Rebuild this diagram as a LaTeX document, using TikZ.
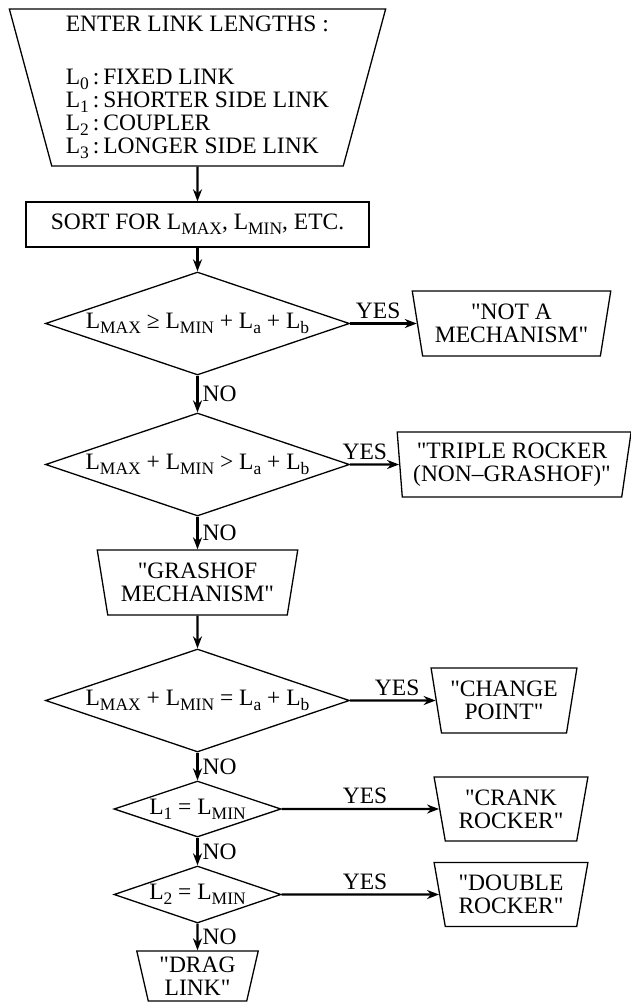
\documentclass[tikz,border=0pt]{standalone}
\usepackage{fontspec}
\setmainfont{Liberation Serif}[Ligatures=TeXOff]
\usepackage{tikz}
\usetikzlibrary{shapes.geometric}
\usetikzlibrary{arrows.meta}

\newcommand{\Lsub}[1]{L\raisebox{-0.22em}{\fontsize{17.5}{18}\selectfont #1}}

\begin{document}
\begin{tikzpicture}[x=1pt,y=-1pt,
  every node/.style={font=\fontsize{23.5}{23}\selectfont},
  box/.style={draw, line width=1.3pt, inner sep=0pt},
  io/.style={box, trapezium, shape border rotate=180, trapezium stretches=true,
             trapezium left angle=77, trapezium right angle=77, align=center},
  test/.style={box, diamond, aspect=3},
  arr/.style={line width=2.2pt, -{Stealth[length=12pt,width=9pt]}},
  lbl/.style={inner sep=4pt}]

  \useasboundingbox (0,0) rectangle (630,1004);

  \def\cx{197.5};

  %input block
  \node[io, trapezium left angle=75, trapezium right angle=75,
        minimum width=378, minimum height=157, align=left] (enter) at (\cx,87.5)
        {ENTER LINK LENGTHS :\\[30pt]
         \Lsub{0}\,:\,FIXED LINK\\
         \Lsub{1}\,:\,SHORTER SIDE LINK\\
         \Lsub{2}\,:\,COUPLER\\
         \Lsub{3}\,:\,LONGER SIDE LINK};

  \node[box, minimum width=343, minimum height=45] (sort) at (\cx,224.5)
        {SORT FOR \Lsub{MAX}, \Lsub{MIN}, ETC.};

  %tests
  \foreach \name/\y/\w/\h/\txt in {
      d1/323.5/304/103/{\Lsub{MAX} ≥ \Lsub{MIN} + \Lsub{a} + \Lsub{b}},
      d2/464.5/304/103/{\Lsub{MAX} + \Lsub{MIN} > \Lsub{a} + \Lsub{b}},
      d3/700.5/304/103/{\Lsub{MAX} + \Lsub{MIN} = \Lsub{a} + \Lsub{b}},
      d4/809/167/56/{\Lsub{1} = \Lsub{MIN}},
      d5/894.5/167/57/{\Lsub{2} = \Lsub{MIN}}}{
    \node[test, minimum width=\w, minimum height=\h] (\name) at (\cx,\y) {\txt};
  }

  %results
  \foreach \name/\x/\y/\w/\h/\txt in {
      mech/511.5/323.5/199/65/{"NOT A\\MECHANISM"},
      grashof/\cx/582.5/201/65/{"GRASHOF\\MECHANISM"},
      change/504/700.5/146/65/{"CHANGE\\POINT"},
      crank/511/809/154/64/{"CRANK\\ROCKER"},
      double/511/894.5/154/64/{"DOUBLE\\ROCKER"},
      drag/\cx/976/122/50/{"DRAG\\LINK"}}{
    \node[io, minimum width=\w, minimum height=\h] (\name) at (\x,\y) {\txt};
  }
  \node[io, trapezium left angle=79, trapezium right angle=84,
        minimum width=234, minimum height=65] (triple) at (512,464.5)
        {"TRIPLE ROCKER\\(NON–GRASHOF)"};

  %flow
  \draw[arr] (enter) -- (sort);
  \draw[arr] (sort) -- (d1);
  \draw[arr] (d1) -- node[lbl, right] {NO} (d2);
  \draw[arr] (d2) -- node[lbl, right] {NO} (grashof);
  \draw[arr] (grashof) -- (d3);
  \draw[arr] (d3) -- node[lbl, right] {NO} (d4);
  \draw[arr] (d4) -- node[lbl, right] {NO} (d5);
  \draw[arr] (d5) -- node[lbl, right] {NO} (drag);

  \draw[arr] (d1) -- node[lbl, above, pos=0.42] {YES} (mech);
  \draw[arr] (d2) -- node[lbl, above, pos=0.3] {YES} (triple);
  \draw[arr] (d3) -- node[lbl, above, pos=0.55] {YES} (change);
  \draw[arr] (d4) -- node[lbl, above, pos=0.53] {YES} (crank);
  \draw[arr] (d5) -- node[lbl, above, pos=0.53] {YES} (double);

\end{tikzpicture}
\end{document}
